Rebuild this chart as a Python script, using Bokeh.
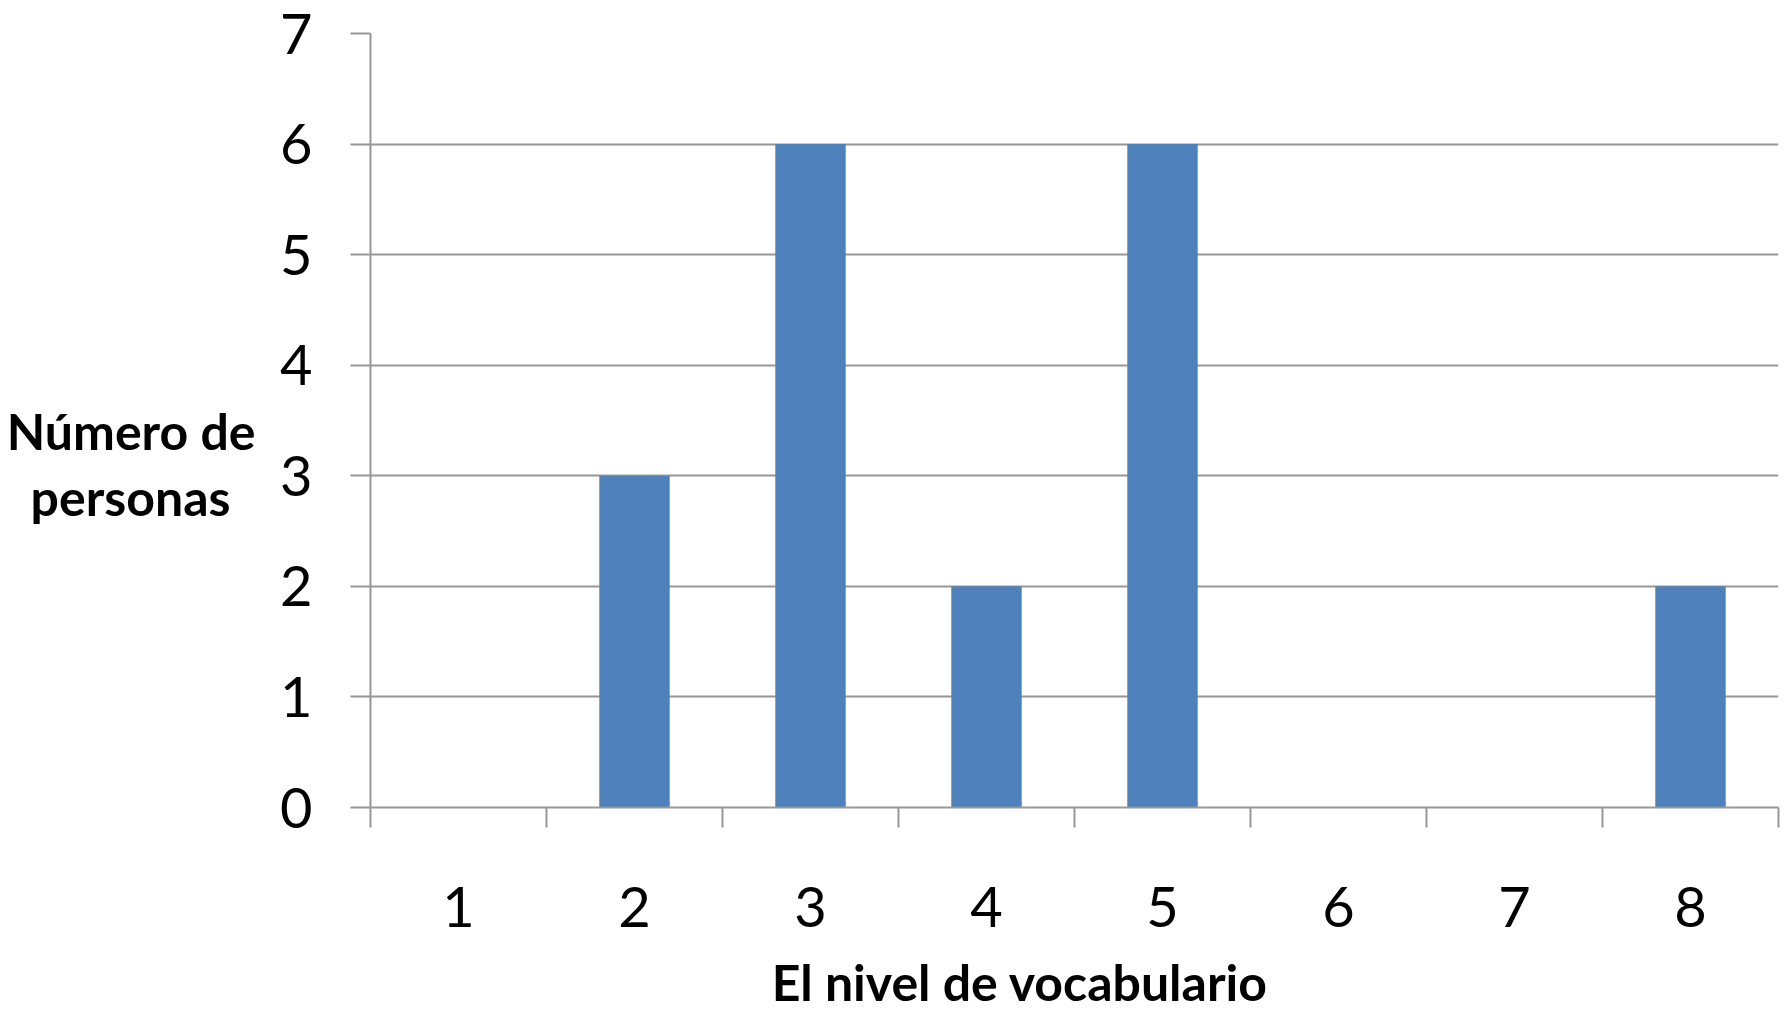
from bokeh.plotting import figure
from bokeh.models import FixedTicker, LinearAxis
from bokeh.embed import file_html
from bokeh.resources import INLINE

levels = [1, 2, 3, 4, 5, 6, 7, 8]
counts = [0, 3, 6, 2, 6, 0, 0, 2]
y_ticks = [0, 1, 2, 3, 4, 5, 6, 7]
x_title = "El nivel de vocabulario"
y_title_lines = ["Número de", "personas"]
x_title_at = 4.19    # data x where the x title is centred
y_title_at = 3.107   # data y where the y title is centred

GRAY = "#979797"
FONT = "Lato"

p = figure(width=1784, height=1014, output_backend="svg", toolbar_location=None,
           x_range=(0.5, 8.5), y_range=(0, 7),
           min_border_left=370, min_border_right=6, min_border_top=33, min_border_bottom=207)
p.outline_line_color = None
p.background_fill_color = "white"
p.border_fill_color = "white"

p.vbar(x=levels, top=counts, width=0.4, fill_color="#4F81BD", line_color=None)

p.xgrid.grid_line_color = None
p.ygrid.ticker = FixedTicker(ticks=y_ticks)
p.ygrid.grid_line_color = GRAY
p.ygrid.grid_line_width = 2

xa = p.xaxis[0]
xa.ticker = FixedTicker(ticks=levels, minor_ticks=[l - 0.5 for l in levels] + [levels[-1] + 0.5])
xa.major_tick_line_color = None
xa.major_tick_out = 0
xa.major_tick_in = 0
xa.minor_tick_line_color = GRAY
xa.minor_tick_line_width = 2
xa.minor_tick_out = 20
xa.minor_tick_in = 0
xa.axis_line_color = GRAY
xa.axis_line_width = 2
xa.major_label_text_font = FONT
xa.major_label_text_font_size = "56px"
xa.major_label_text_color = "black"
xa.major_label_standoff = 59

ya = p.yaxis[0]
ya.ticker = FixedTicker(ticks=y_ticks)
ya.minor_tick_line_color = None
ya.major_tick_line_color = GRAY
ya.major_tick_line_width = 2
ya.major_tick_out = 20
ya.major_tick_in = 0
ya.axis_line_color = GRAY
ya.axis_line_width = 2
ya.major_label_text_font = FONT
ya.major_label_text_font_size = "56px"
ya.major_label_text_color = "black"
ya.major_label_standoff = 38


def title_axis(at, text, standoff):
    return LinearAxis(ticker=FixedTicker(ticks=[at], minor_ticks=[]),
                      major_label_overrides={at: text},
                      axis_line_color=None, major_tick_line_color=None, minor_tick_line_color=None,
                      major_tick_out=0, major_tick_in=0, minor_tick_out=0, minor_tick_in=0,
                      major_label_standoff=standoff,
                      major_label_text_font=FONT, major_label_text_font_style="bold",
                      major_label_text_font_size="50px", major_label_text_color="black")


xt = title_axis(x_title_at, x_title, 22)
p.add_layout(xt, "below")

y_label = y_title_lines[0] + "\n" + y_title_lines[1] + "\u2002"
yt = title_axis(y_title_at, y_label, 22)
yt.major_label_text_line_height = 1.1
p.add_layout(yt, "left")

open("out.html", "w").write(file_html(p, INLINE))
